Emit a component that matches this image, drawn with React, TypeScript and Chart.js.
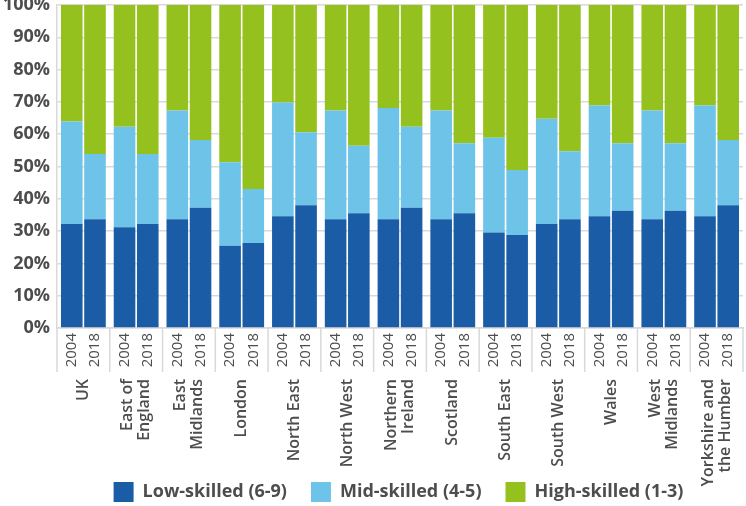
import React, { useEffect, useRef } from "react";
import { Chart, registerables } from "chart.js";
Chart.register(...registerables);

const regions: string[][] = [
  ["UK"], ["East of", "England"], ["East", "Midlands"], ["London"], ["North East"], ["North West"],
  ["Northern", "Ireland"], ["Scotland"], ["South East"], ["South West"], ["Wales"], ["West", "Midlands"],
  ["Yorkshire and", "the Humber"],
];
const years = ["2004", "2018"];
const seriesNames = ["Low-skilled (6-9)", "Mid-skilled (4-5)", "High-skilled (1-3)"];
const low2004 = [32.2, 31.2, 33.7, 25.5, 34.6, 33.7, 33.7, 33.7, 29.6, 32.2, 34.6, 33.7, 34.6];
const mid2004 = [31.7, 31.1, 33.6, 25.8, 35.2, 33.6, 34.4, 33.6, 29.3, 32.6, 34.3, 33.6, 34.3];
const high2004 = [36.1, 37.7, 32.7, 48.7, 30.2, 32.7, 31.9, 32.7, 41.1, 35.2, 31.1, 32.7, 31.1];
const low2018 = [33.7, 32.2, 37.2, 26.3, 38.0, 35.5, 37.2, 35.5, 28.8, 33.7, 36.3, 36.3, 38.0];
const mid2018 = [20.2, 21.7, 21.0, 16.7, 22.6, 20.9, 25.1, 21.7, 20.1, 21.0, 20.9, 20.9, 20.2];
const high2018 = [46.1, 46.1, 41.8, 57.0, 39.4, 43.6, 37.7, 42.8, 51.1, 45.3, 42.8, 42.8, 41.8];
const yTicks = [0, 10, 20, 30, 40, 50, 60, 70, 80, 90, 100];

const COLORS = ["#1a5da6", "#6ec3e8", "#95c11f"];
const TEXT = "#4d4d4d";
const GRID = "#d9d9d9";
const FONT = "'Open Sans', sans-serif";

const xLabelsPlugin = {
  id: "xLabels",
  afterDraw(chart: any) {
    const ctx = chart.ctx;
    const xs = chart.scales.x;
    const bottom = chart.chartArea.bottom;
    const n = regions.length;
    const half = (xs.getPixelForValue(1) - xs.getPixelForValue(0)) / 2;
    ctx.save();
    ctx.strokeStyle = GRID;
    ctx.lineWidth = 1.5;
    for (let i = 0; i <= n; i++) {
      const px = i < n ? xs.getPixelForValue(i) - half : xs.getPixelForValue(n - 1) + half;
      ctx.beginPath();
      ctx.moveTo(px, bottom);
      ctx.lineTo(px, bottom + 44);
      ctx.stroke();
    }
    ctx.fillStyle = TEXT;
    ctx.font = `15px ${FONT}`;
    ctx.textAlign = "right";
    ctx.textBaseline = "middle";
    [0, 3].forEach((di, yi) => {
      const meta = chart.getDatasetMeta(di);
      meta.data.forEach((bar: any) => {
        ctx.save();
        ctx.translate(bar.x, bottom + 5);
        ctx.rotate(-Math.PI / 2);
        ctx.fillText(years[yi], 0, 0);
        ctx.restore();
      });
    });
    ctx.font = `600 16px ${FONT}`;
    regions.forEach((lines, i) => {
      const cx = xs.getPixelForValue(i);
      ctx.save();
      ctx.translate(cx, bottom + 51);
      ctx.rotate(-Math.PI / 2);
      lines.forEach((t, k) => {
        ctx.fillText(t, 0, (k - (lines.length - 1) / 2) * 16.7);
      });
      ctx.restore();
    });
    ctx.restore();
  },
};

const legendShiftPlugin = {
  id: "legendShift",
  afterLayout(chart: any) {
    if (chart.legend) {
      chart.legend.left += 27;
      chart.legend.right += 27;
    }
  },
};

export default function App() {
  const ref = useRef<HTMLCanvasElement>(null);
  useEffect(() => {
    document.body.style.margin = "0";
    const mk = (data: number[], ci: number, stack: string) => ({
      label: seriesNames[ci],
      data,
      backgroundColor: COLORS[ci],
      stack,
      categoryPercentage: 0.88,
      barPercentage: 0.93,
    });
    const chart = new Chart(ref.current!, {
      type: "bar",
      data: {
        labels: regions.map((r) => r.join(" ")),
        datasets: [
          mk(low2004, 0, years[0]), mk(mid2004, 1, years[0]), mk(high2004, 2, years[0]),
          mk(low2018, 0, years[1]), mk(mid2018, 1, years[1]), mk(high2018, 2, years[1]),
        ],
      },
      options: {
        animation: false,
        responsive: false,
        devicePixelRatio: 1,
        layout: { padding: { top: 5, right: 3, left: 0, bottom: -6 } },
        plugins: {
          tooltip: { enabled: false },
          legend: {
            position: "bottom",
            labels: {
              filter: (item: any) => item.datasetIndex < 3,
              boxWidth: 20,
              boxHeight: 20,
              padding: 24,
              color: TEXT,
              font: { family: FONT, size: 18, weight: "bold" },
            },
          },
        },
        scales: {
          x: {
            stacked: true,
            grid: { display: false },
            border: { display: true, color: GRID, width: 1.5 },
            ticks: { display: false },
            afterFit: (s: any) => { s.height = 130; },
          },
          y: {
            stacked: true,
            min: 0,
            max: 100,
            afterBuildTicks: (s: any) => { s.ticks = yTicks.map((v) => ({ value: v })); },
            afterFit: (s: any) => { s.width = 57; s.paddingTop = 0; s.paddingBottom = 0; },
            grid: { color: GRID, lineWidth: 1.5, drawTicks: false },
            border: { display: true, color: GRID, width: 1.5 },
            ticks: {
              padding: 7,
              color: TEXT,
              font: { family: FONT, size: 18, weight: "bold" },
              callback: (v: any) => v + "%",
            },
          },
        },
      },
      plugins: [xLabelsPlugin, legendShiftPlugin],
    } as any);
    return () => chart.destroy();
  }, []);
  return (
    <div style={{ width: 746, height: 506 }}>
      <canvas ref={ref} width={746} height={506} style={{ display: "block" }} />
    </div>
  );
}
